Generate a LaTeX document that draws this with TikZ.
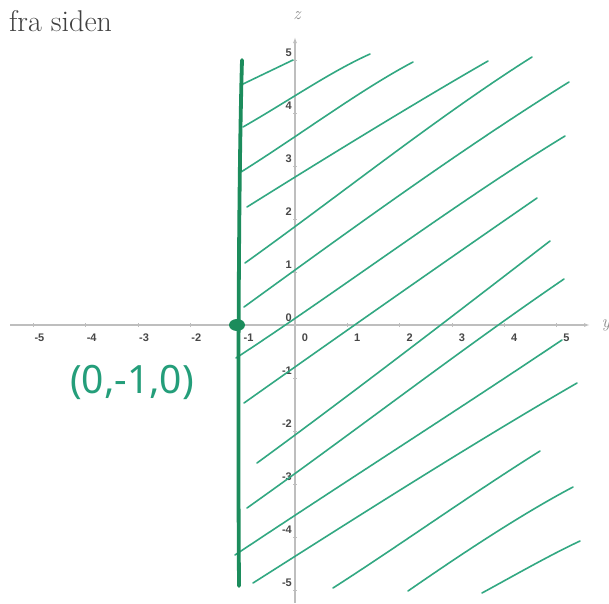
\documentclass[tikz,border=0pt]{standalone}
\usepackage{fontspec}
\newfontfamily\handfont{Noto Sans}
\newfontfamily\tickfont{Liberation Sans}
\usetikzlibrary{arrows.meta}
\definecolor{hatchcol}{RGB}{50,168,130}
\definecolor{thickcol}{RGB}{28,140,92}
\definecolor{labelcol}{RGB}{36,158,122}
\definecolor{axiscol}{RGB}{190,190,190}
\tikzset{
  axisline/.style={draw=axiscol, line width=1.4pt, -{Latex[length=6pt,width=4pt]}},
  ticklabel/.style={font=\tickfont\bfseries\fontsize{11}{11}\selectfont, text=black!72, inner sep=0pt},
  hatchline/.style={draw=hatchcol, line width=1.6pt, line cap=round},
  wall/.style={draw=thickcol, line width=3.8pt, line cap=round},
}
\begin{document}
\begin{tikzpicture}[x=1pt,y=-1pt]
\useasboundingbox (0,0) rectangle (609,603);
\fill[white] (0,0) rectangle (609,603);
% title
\node[anchor=west, inner sep=0pt, text=black!75, font=\fontsize{30}{30}\selectfont] (title) at (9,21) {fra siden};
% axes
\coordinate (xl) at (10,325);
\coordinate (xr) at (590,325);
\coordinate (zb) at (295,603);
\coordinate (zt) at (295,37);
\draw[axisline] (xl) -- (xr);
\draw[axisline] (zb) -- (zt);
\node[text=black!45, font=\itshape\fontsize{18}{18}\selectfont, inner sep=0pt] (zlab) at (297,16) {z};
\node[text=black!45, font=\itshape\fontsize{18}{18}\selectfont, inner sep=0pt] (ylab) at (606,325) {y};
% ticks and labels
\foreach \v in {-5,...,5}{
  \draw[axiscol, line width=0.8pt] ({295+52.3*\v},323) -- ({295+52.3*\v},327);
  \draw[axiscol, line width=0.8pt] (293,{325-53*\v}) -- (297,{325-53*\v});
}
\foreach \v in {1,...,5}{
  \node[ticklabel] (xt\v) at ({305+52.3*\v},338) {\v};
  \node[ticklabel, anchor=east] (zt\v) at (292,{318-53*\v}) {\v};
}
\foreach \v in {1,...,5}{
  \node[ticklabel, anchor=east] (xn\v) at ({306-52.3*\v},338) {-\v};
  \node[ticklabel, anchor=east] (zn\v) at (292,{318+53*\v}) {-\v};
}
\node[ticklabel] (x0) at (305,338) {0};
\node[ticklabel, anchor=east] (z0) at (292,318) {0};
% hatch lines
\draw[hatchline] (243,84) -- (293,60);
\draw[hatchline] (243,127) .. controls (290,100) and (330,72) .. (370,54);
\draw[hatchline] (241,172) .. controls (300,135) and (360,90) .. (413,62);
\draw[hatchline] (247,207) .. controls (330,155) and (420,100) .. (488,61);
\draw[hatchline] (245,263) .. controls (340,195) and (440,115) .. (532,57);
\draw[hatchline] (244,307) .. controls (350,230) and (460,150) .. (569,82);
\draw[hatchline] (236,358) .. controls (340,290) and (460,200) .. (565,136);
\draw[hatchline] (244,403) .. controls (340,335) and (440,265) .. (537,198);
\draw[hatchline] (257,463) .. controls (350,395) and (450,318) .. (550,241);
\draw[hatchline] (247,508) .. controls (350,435) and (460,350) .. (564,279);
\draw[hatchline] (235,555) .. controls (340,485) and (450,415) .. (562,340);
\draw[hatchline] (253,583) .. controls (360,515) and (470,445) .. (577,383);
\draw[hatchline] (333,588) .. controls (400,545) and (470,495) .. (540,451);
\draw[hatchline] (408,591) .. controls (460,555) and (520,515) .. (573,487);
\draw[hatchline] (482,593) .. controls (515,575) and (550,555) .. (580,541);
% thick line and point
\draw[wall] (242,60) .. controls (238,200) and (238,450) .. (239,586);
\fill[thickcol] (237,325) ellipse (8 and 6);
\node[text=labelcol, font=\handfont\fontsize{39}{39}\selectfont, inner sep=0pt] (pt) at (132,382) {(0,-1,0)};
\end{tikzpicture}
\end{document}
